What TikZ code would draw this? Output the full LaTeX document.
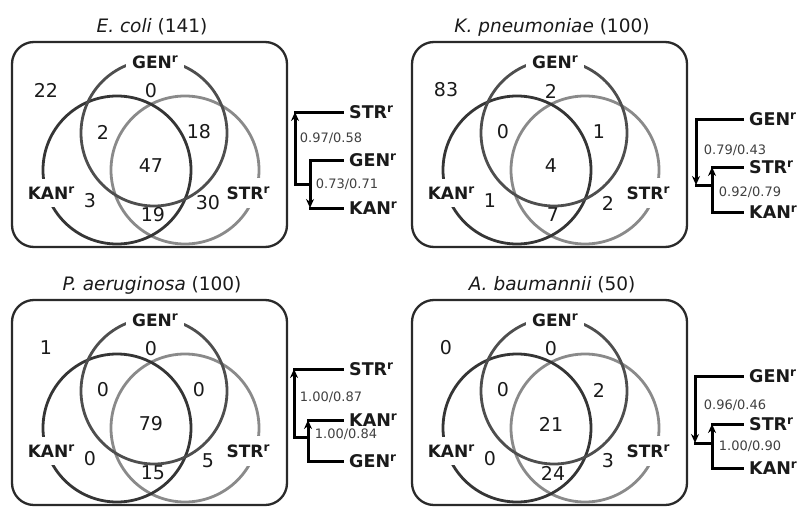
\documentclass[tikz,border=0pt]{standalone}
\usepackage{fontspec}
\setmainfont{DejaVu Sans}
\usetikzlibrary{arrows.meta}

\definecolor{boxc}{HTML}{2A2A2A}
\definecolor{cgen}{HTML}{4E4E4E}
\definecolor{ckan}{HTML}{353535}
\definecolor{cstr}{HTML}{8A8A8A}
\definecolor{txtc}{HTML}{1A1A1A}
\definecolor{supc}{HTML}{404040}

% resistance label with raised "r"
\newcommand{\rs}[1]{#1\raisebox{0.36em}{\fontsize{12}{12}\selectfont r}}

\tikzset{
  panelbox/.style={draw=boxc, line width=2.3pt, rounded corners=22pt},
  ring/.style={line width=2.8pt},
  setlab/.style={font=\fontsize{17}{17}\selectfont\bfseries, text=txtc, fill=white, inner xsep=6pt, inner ysep=3pt},
  count/.style={font=\fontsize{19}{19}\selectfont, text=txtc, inner sep=0pt},
  titletxt/.style={font=\fontsize{18.5}{18.5}\selectfont, text=txtc},
  leaf/.style={font=\fontsize{17.5}{17.5}\selectfont\bfseries, text=txtc, anchor=west, inner xsep=7pt, inner ysep=0pt},
  support/.style={font=\fontsize{13}{13}\selectfont, text=supc, inner sep=0pt},
  branch/.style={draw=black, line width=3pt, line cap=rect},
  tip/.style={-{Stealth[length=9pt,width=8pt]}}
}

% one Venn panel: #1 title, #2 none, #3 GEN only, #4 GEN+KAN, #5 GEN+STR,
% #6 all three, #7 KAN only, #8 KAN+STR, #9 STR only
\newcommand{\vennpanel}[9]{%
  \node[titletxt] (\pfx-title) at (152,27) {#1};
  \draw[panelbox] (12,42) rectangle (287,247);
  \draw[ring, draw=cstr] (185,170) circle[radius=74pt];
  \draw[ring, draw=ckan] (117,170) circle[radius=74pt];
  \draw[ring, draw=cgen] (154,133) circle[radius=73pt];
  \node[setlab] (\pfx-G) at (155,62) {\rs{GEN}};
  \node[setlab, inner ysep=8pt] (\pfx-K) at (51,193) {\rs{KAN}};
  \node[setlab, inner ysep=8pt] (\pfx-S) at (248,193) {\rs{STR}};
  \node[count] (\pfx-n0) at (46,90) {#2};
  \node[count] (\pfx-nG) at (151,91) {#3};
  \node[count] (\pfx-nGK) at (103,132) {#4};
  \node[count] (\pfx-nGS) at (199,132) {#5};
  \node[count] (\pfx-nA) at (151,166) {#6};
  \node[count] (\pfx-nK) at (90,201) {#7};
  \node[count] (\pfx-nKS) at (153,215) {#8};
  \node[count] (\pfx-nS) at (208,203) {#9};
}

\begin{document}
\begin{tikzpicture}[x=1pt, y=-1pt]
\useasboundingbox (0,0) rectangle (799,508);

% ---- E. coli ----
\def\pfx{ec}
\vennpanel{\textit{E. coli} (141)}{22}{0}{2}{18}{47}{3}{19}{30}
\node[leaf] (ec-str) at (342,112) {\rs{STR}};
\node[leaf] (ec-gen) at (342,160) {\rs{GEN}};
\node[leaf] (ec-kan) at (342,208) {\rs{KAN}};
\coordinate (ec-o) at (295,184);
\coordinate (ec-i) at (310,184);
\coordinate (ec-strc) at (295,112);
\coordinate (ec-genc) at (310,160);
\coordinate (ec-kanc) at (310,208);
\draw[branch] (ec-strc) -- (ec-str.west);
\draw[branch] (ec-genc) -- (ec-gen.west);
\draw[branch] (ec-kanc) -- (ec-kan.west);
\draw[branch] (ec-o) -- (ec-i);
\draw[branch, tip] (ec-o) -- (ec-strc);
\draw[branch, tip] (ec-genc) -- (ec-kanc);
\node[support] (ec-s1) at (331,138) {0.97/0.58};
\node[support] (ec-s2) at (347,184) {0.73/0.71};

% ---- K. pneumoniae ----
\begin{scope}[shift={(400,0)}]
\def\pfx{kp}
\vennpanel{\textit{K. pneumoniae} (100)}{83}{2}{0}{1}{4}{1}{7}{2}
\end{scope}
\node[leaf] (kp-gen) at (742,119) {\rs{GEN}};
\node[leaf] (kp-str) at (742,167) {\rs{STR}};
\node[leaf] (kp-kan) at (742,212) {\rs{KAN}};
\coordinate (kp-o) at (696,185);
\coordinate (kp-i) at (712,185);
\coordinate (kp-genc) at (696,119);
\coordinate (kp-strc) at (712,167);
\coordinate (kp-kanc) at (712,212);
\draw[branch] (kp-genc) -- (kp-gen.west);
\draw[branch] (kp-strc) -- (kp-str.west);
\draw[branch] (kp-kanc) -- (kp-kan.west);
\draw[branch] (kp-o) -- (kp-i);
\draw[branch, tip] (kp-genc) -- (kp-o);
\draw[branch, tip] (kp-kanc) -- (kp-strc);
\node[support] (kp-s1) at (735,150) {0.79/0.43};
\node[support] (kp-s2) at (750,192) {0.92/0.79};

% ---- P. aeruginosa ----
\begin{scope}[shift={(0,258)}]
\def\pfx{pa}
\vennpanel{\textit{P. aeruginosa} (100)}{1}{0}{0}{0}{79}{0}{15}{5}
\end{scope}
\node[leaf] (pa-str) at (342,369) {\rs{STR}};
\node[leaf] (pa-kan) at (342,420) {\rs{KAN}};
\node[leaf] (pa-gen) at (342,461) {\rs{GEN}};
\coordinate (pa-o) at (294,437);
\coordinate (pa-i) at (308,437);
\coordinate (pa-strc) at (294,369);
\coordinate (pa-kanc) at (308,420);
\coordinate (pa-genc) at (308,461);
\draw[branch] (pa-strc) -- (pa-str.west);
\draw[branch] (pa-kanc) -- (pa-kan.west);
\draw[branch] (pa-genc) -- (pa-gen.west);
\draw[branch] (pa-o) -- (pa-i);
\draw[branch, tip] (pa-o) -- (pa-strc);
\draw[branch, tip] (pa-genc) -- (pa-kanc);
\node[support] (pa-s1) at (331,397) {1.00/0.87};
\node[support] (pa-s2) at (346,434) {1.00/0.84};

% ---- A. baumannii ----
\begin{scope}[shift={(400,258)}]
\def\pfx{ab}
\vennpanel{\textit{A. baumannii} (50)}{0}{0}{0}{2}{21}{0}{24}{3}
\end{scope}
\node[leaf] (ab-gen) at (742,376) {\rs{GEN}};
\node[leaf] (ab-str) at (742,424) {\rs{STR}};
\node[leaf] (ab-kan) at (742,468) {\rs{KAN}};
\coordinate (ab-o) at (695,443);
\coordinate (ab-i) at (712,443);
\coordinate (ab-genc) at (695,376);
\coordinate (ab-strc) at (712,424);
\coordinate (ab-kanc) at (712,468);
\draw[branch] (ab-genc) -- (ab-gen.west);
\draw[branch] (ab-strc) -- (ab-str.west);
\draw[branch] (ab-kanc) -- (ab-kan.west);
\draw[branch] (ab-o) -- (ab-i);
\draw[branch, tip] (ab-genc) -- (ab-o);
\draw[branch, tip] (ab-kanc) -- (ab-strc);
\node[support] (ab-s1) at (735,405) {0.96/0.46};
\node[support] (ab-s2) at (750,446) {1.00/0.90};
\end{tikzpicture}
\end{document}
